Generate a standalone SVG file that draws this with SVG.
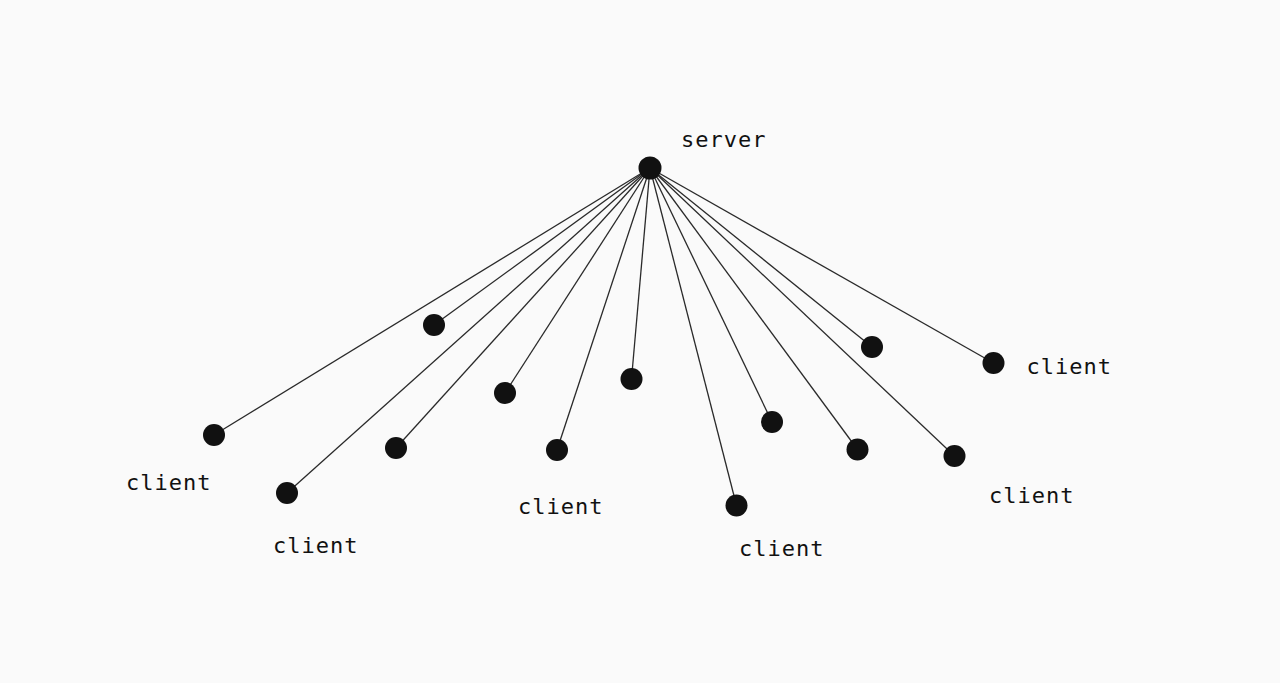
<svg xmlns="http://www.w3.org/2000/svg" width="1280" height="683" viewBox="0 0 1280 683">
<style>
.bg{fill:#fafafa}
.edge{stroke:#2a2a2a;stroke-width:1.3;fill:none}
.node{fill:#111111}
.lbl{font-family:"DejaVu Sans Mono","Liberation Mono",monospace;font-size:22px;letter-spacing:1px;fill:#111111}
</style>
<rect class="bg" x="0" y="0" width="1280" height="683"/>
<g id="connectors">
<line class="edge" x1="650" y1="168" x2="434" y2="325"/>
<line class="edge" x1="650" y1="168" x2="214" y2="435"/>
<line class="edge" x1="650" y1="168" x2="287" y2="493"/>
<line class="edge" x1="650" y1="168" x2="396" y2="448"/>
<line class="edge" x1="650" y1="168" x2="505" y2="393"/>
<line class="edge" x1="650" y1="168" x2="557" y2="450"/>
<line class="edge" x1="650" y1="168" x2="631.5" y2="379"/>
<line class="edge" x1="650" y1="168" x2="736.5" y2="505.5"/>
<line class="edge" x1="650" y1="168" x2="772" y2="422"/>
<line class="edge" x1="650" y1="168" x2="857.5" y2="449.5"/>
<line class="edge" x1="650" y1="168" x2="954.5" y2="456"/>
<line class="edge" x1="650" y1="168" x2="872" y2="347"/>
<line class="edge" x1="650" y1="168" x2="993.5" y2="363"/>
</g>
<g id="server"><circle class="node" cx="650" cy="168" r="11.5"/><text class="lbl" x="681" y="147">server</text></g>
<g id="n1"><circle class="node" cx="434" cy="325" r="11"/></g>
<g id="c1"><circle class="node" cx="214" cy="435" r="11"/><text class="lbl" x="126" y="490">client</text></g>
<g id="c2"><circle class="node" cx="287" cy="493" r="11"/><text class="lbl" x="273" y="553">client</text></g>
<g id="n2"><circle class="node" cx="396" cy="448" r="11"/></g>
<g id="n3"><circle class="node" cx="505" cy="393" r="11"/></g>
<g id="c3"><circle class="node" cx="557" cy="450" r="11"/><text class="lbl" x="518" y="514">client</text></g>
<g id="n4"><circle class="node" cx="631.5" cy="379" r="11"/></g>
<g id="c4"><circle class="node" cx="736.5" cy="505.5" r="11"/><text class="lbl" x="739" y="556">client</text></g>
<g id="n5"><circle class="node" cx="772" cy="422" r="11"/></g>
<g id="n6"><circle class="node" cx="857.5" cy="449.5" r="11"/></g>
<g id="c5"><circle class="node" cx="954.5" cy="456" r="11"/><text class="lbl" x="989" y="503">client</text></g>
<g id="n7"><circle class="node" cx="872" cy="347" r="11"/></g>
<g id="c6"><circle class="node" cx="993.5" cy="363" r="11"/><text class="lbl" x="1026.5" y="374">client</text></g>
</svg>
